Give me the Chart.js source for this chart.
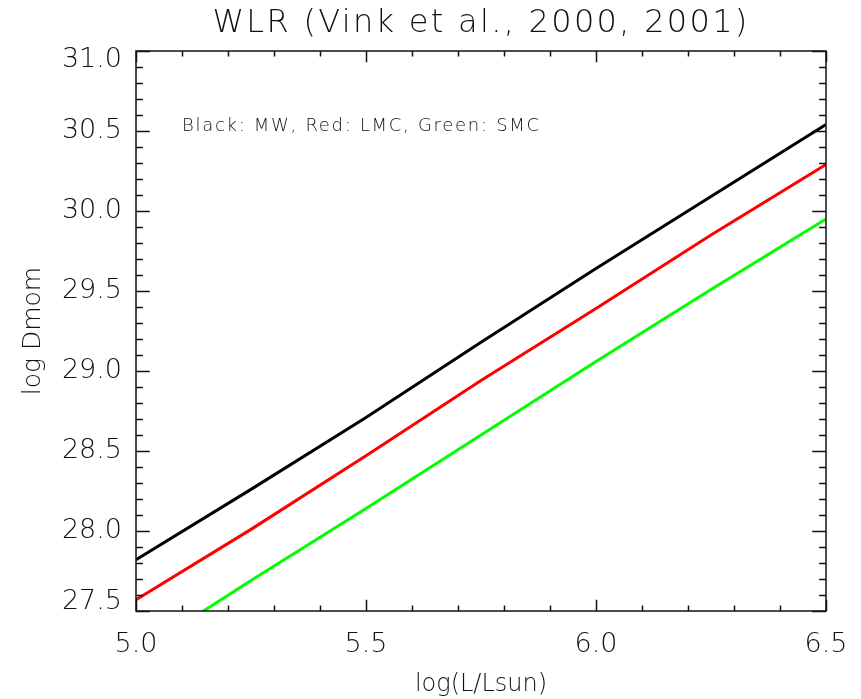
<!DOCTYPE html>
<html>
<head>
<meta charset="utf-8">
<script src="https://cdn.jsdelivr.net/npm/chart.js@4.4.1/dist/chart.umd.min.js"></script>
<style>
  html, body { margin: 0; padding: 0; background: #fff; }
  #wrap { width: 861px; height: 699px; }
</style>
</head>
<body>
<div id="wrap"><canvas id="wlr"></canvas></div>
<script>
// wind momentum - luminosity relation, log Dmom vs log(L/Lsun)
const logL = [5.0, 5.25, 5.5, 5.75, 6.0, 6.25, 6.5];
const dmomMW = [27.82, 28.26, 28.71, 29.18, 29.64, 30.09, 30.54];
const dmomLMC = [27.57, 28.01, 28.47, 28.94, 29.39, 29.85, 30.29];
const dmomSMC = [27.23, 27.69, 28.14, 28.60, 29.06, 29.51, 29.95];

const xRange = [5.0, 6.5];
const yRange = [27.5, 31.0];

const titleText = "WLR (Vink et al., 2000, 2001)";
const noteText = "Black: MW, Red: LMC, Green: SMC";

const FONT = "'DejaVu Sans', sans-serif";
const INK = "#111";

function pts(ys) {
  return logL.map((x, i) => ({ x: x, y: ys[i] }));
}

// box around the plot, inward ticks on all four sides, title and note
const frame = {
  id: "frame",
  afterDraw(chart) {
    const { ctx, chartArea: a, scales } = chart;
    ctx.save();
    ctx.strokeStyle = INK;
    ctx.lineWidth = 1.5;
    ctx.strokeRect(a.left, a.top, a.right - a.left, a.bottom - a.top);

    ctx.beginPath();
    const h = a.bottom - a.top, w = a.right - a.left;
    for (let i = 0; i <= 15; i++) {
      const v = xRange[0] + i * 0.1;
      const px = Math.round(scales.x.getPixelForValue(v)) + 0.5;
      const len = i % 5 === 0 ? h * 0.02 : h * 0.01;
      ctx.moveTo(px, a.bottom); ctx.lineTo(px, a.bottom - len);
      ctx.moveTo(px, a.top); ctx.lineTo(px, a.top + len);
    }
    for (let i = 0; i <= 35; i++) {
      const v = yRange[0] + i * 0.1;
      const py = Math.round(scales.y.getPixelForValue(v)) + 0.5;
      const len = i % 5 === 0 ? w * 0.02 : w * 0.01;
      ctx.moveTo(a.left, py); ctx.lineTo(a.left + len, py);
      ctx.moveTo(a.right, py); ctx.lineTo(a.right - len, py);
    }
    ctx.stroke();

    ctx.fillStyle = INK;
    ctx.textBaseline = "middle";
    ctx.textAlign = "center";
    ctx.font = "200 32px " + FONT;
    ctx.letterSpacing = "2.3px";
    ctx.fillText(titleText, (a.left + a.right) / 2, 24);

    ctx.textAlign = "left";
    ctx.font = "200 18px " + FONT;
    ctx.letterSpacing = "1.7px";
    ctx.fillText(noteText, scales.x.getPixelForValue(5.1), scales.y.getPixelForValue(30.53));
    ctx.restore();
  }
};

// the end labels of the y axis sit a little inside the frame
function yLabel(v) {
  const s = v.toFixed(1);
  if (v >= yRange[1]) return ["", s];
  if (v <= yRange[0]) return [s, ""];
  return s;
}

const lineStyle = { borderWidth: 3, pointRadius: 0, fill: false, tension: 0 };

new Chart(document.getElementById("wlr"), {
  type: "line",
  data: {
    datasets: [
      { label: "MW", data: pts(dmomMW), borderColor: "#000000", ...lineStyle },
      { label: "LMC", data: pts(dmomLMC), borderColor: "#ff0000", ...lineStyle },
      { label: "SMC", data: pts(dmomSMC), borderColor: "#00ff00", ...lineStyle }
    ]
  },
  options: {
    responsive: true,
    maintainAspectRatio: false,
    devicePixelRatio: 1,
    animation: false,
    layout: { padding: { top: 51, right: 35, left: 0, bottom: 0 } },
    plugins: {
      legend: { display: false },
      title: { display: false },
      tooltip: { enabled: false }
    },
    scales: {
      x: {
        type: "linear",
        min: xRange[0],
        max: xRange[1],
        afterFit(s) { s.height = 88; s.paddingLeft = 0; s.paddingRight = 0; },
        grid: { display: false, drawTicks: false },
        border: { display: false },
        ticks: {
          stepSize: 0.5,
          padding: 18,
          color: INK,
          font: { family: FONT, size: 27, weight: 200 },
          callback: v => v.toFixed(1)
        },
        title: {
          display: true,
          text: "log(L/Lsun)",
          color: INK,
          font: { family: FONT, size: 24, weight: 200 },
          padding: { top: 4, bottom: 0 }
        }
      },
      y: {
        min: yRange[0],
        max: yRange[1],
        afterFit(s) { s.width = 136; s.paddingTop = 0; s.paddingBottom = 0; },
        grid: { display: false, drawTicks: false },
        border: { display: false },
        ticks: {
          stepSize: 0.5,
          padding: 14,
          color: INK,
          font: { family: FONT, size: 27, weight: 200, lineHeight: 0.7 },
          callback: yLabel
        },
        title: {
          display: true,
          text: "log Dmom",
          color: INK,
          font: { family: FONT, size: 25, weight: 200 },
          padding: { top: 18, bottom: 0 }
        }
      }
    }
  },
  plugins: [frame]
});
</script>
</body>
</html>
